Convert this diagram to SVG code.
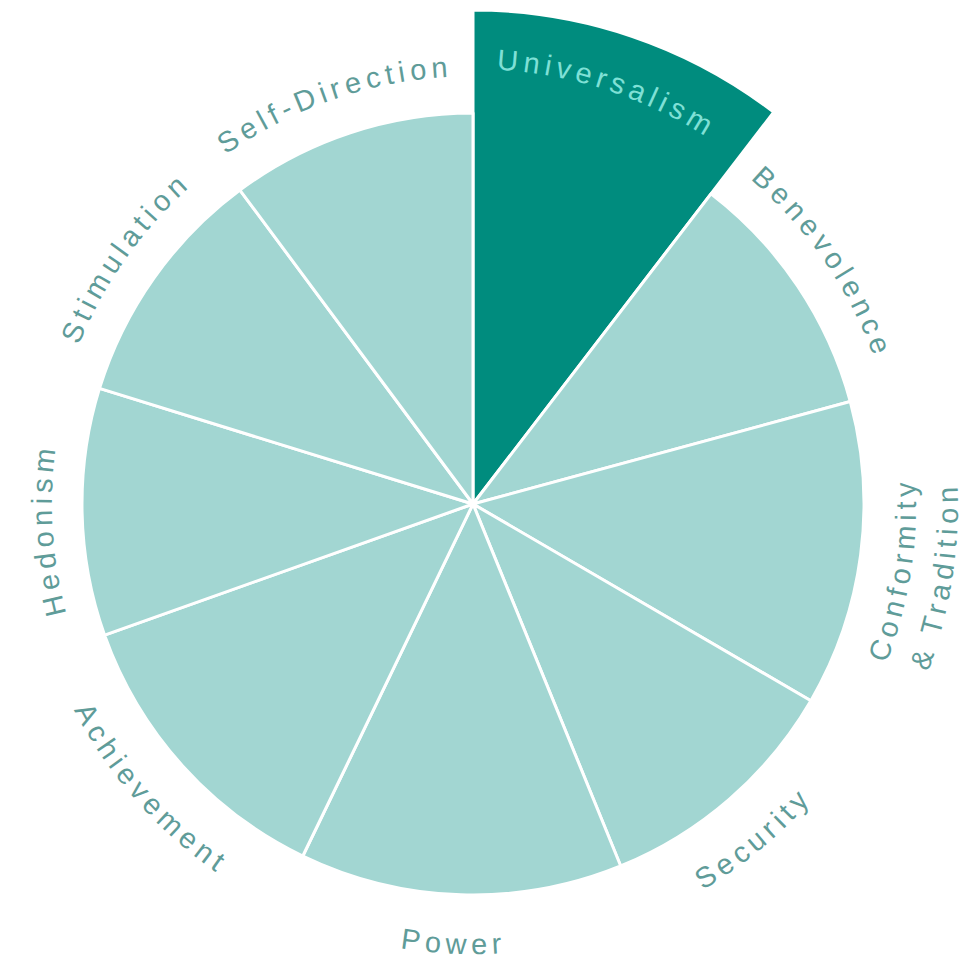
<svg xmlns="http://www.w3.org/2000/svg" width="976" height="962" viewBox="0 0 976 962">
<style>
.seg{fill:#a2d6d2;stroke:#ffffff;stroke-width:3;stroke-linejoin:round}
.hi{fill:#008c7e}
.lbl{font-family:"Liberation Sans",Arial,sans-serif;font-size:29px;letter-spacing:5px;fill:#5f9c99}
.lbl-hi{fill:#7fe0d6}
</style>
<defs>
<path id="a-uni" d="M130.2,236.2 A435,435 0 0 1 907.7,488.8"/>
<path id="a-ben" d="M365.4,90.8 A427,427 0 0 1 821.0,751.4"/>
<path id="a-hed" d="M353.4,907.7 A421,421 0 0 1 305.1,117.9"/>
<path id="a-sti" d="M123.6,745.9 A425,425 0 0 1 585.2,94.0"/>
<path id="a-sel" d="M45.1,496.5 A428,428 0 0 1 805.6,234.7"/>
<path id="a-pow" d="M43.8,639.3 A450,450 0 0 0 888.8,676.2"/>
<path id="a-sec" d="M248.8,893.2 A450,450 0 0 0 896.9,351.6"/>
<path id="a-ach" d="M78.4,289.7 A449,449 0 0 0 637.6,921.7"/>
<path id="a-con" d="M559.0,938.6 A443,443 0 0 0 686.5,115.8"/>
<path id="a-tra" d="M567.2,979.8 A485,485 0 0 0 706.6,79.0"/>
</defs>
<rect width="976" height="962" fill="#ffffff"/>
<g id="universalism">
<path class="seg hi" d="M473,504 L473,10 A494,494 0 0 1 773.7,112.1 Z"/>
<text class="lbl lbl-hi"><textPath href="#a-uni" startOffset="50%" text-anchor="middle">Universalism</textPath></text>
</g>
<g id="benevolence">
<path class="seg" d="M473,504 L711.0,193.8 A391,391 0 0 1 850.3,401.5 Z"/>
<text class="lbl"><textPath href="#a-ben" startOffset="50%" text-anchor="middle">Benevolence</textPath></text>
</g>
<g id="conformity-tradition">
<path class="seg" d="M473,504 L850.3,401.5 A391,391 0 0 1 810.9,700.7 Z"/>
<text class="lbl"><textPath href="#a-con" startOffset="50%" text-anchor="middle">Conformity</textPath></text>
<text class="lbl"><textPath href="#a-tra" startOffset="50%" text-anchor="middle">&amp; Tradition</textPath></text>
</g>
<g id="security">
<path class="seg" d="M473,504 L810.9,700.7 A391,391 0 0 1 620.7,866.0 Z"/>
<text class="lbl"><textPath href="#a-sec" startOffset="50%" text-anchor="middle">Security</textPath></text>
</g>
<g id="power">
<path class="seg" d="M473,504 L620.7,866.0 A391,391 0 0 1 302.8,856.0 Z"/>
<text class="lbl"><textPath href="#a-pow" startOffset="50%" text-anchor="middle">Power</textPath></text>
</g>
<g id="achievement">
<path class="seg" d="M473,504 L302.8,856.0 A391,391 0 0 1 104.6,635.2 Z"/>
<text class="lbl"><textPath href="#a-ach" startOffset="50%" text-anchor="middle">Achievement</textPath></text>
</g>
<g id="hedonism">
<path class="seg" d="M473,504 L104.6,635.2 A391,391 0 0 1 99.5,388.4 Z"/>
<text class="lbl"><textPath href="#a-hed" startOffset="50%" text-anchor="middle">Hedonism</textPath></text>
</g>
<g id="stimulation">
<path class="seg" d="M473,504 L99.5,388.4 A391,391 0 0 1 239.9,190.1 Z"/>
<text class="lbl"><textPath href="#a-sti" startOffset="50%" text-anchor="middle">Stimulation</textPath></text>
</g>
<g id="self-direction">
<path class="seg" d="M473,504 L239.9,190.1 A391,391 0 0 1 473,113 Z"/>
<text class="lbl"><textPath href="#a-sel" startOffset="50%" text-anchor="middle">Self-Direction</textPath></text>
</g>
<g id="connectors"></g>
</svg>
